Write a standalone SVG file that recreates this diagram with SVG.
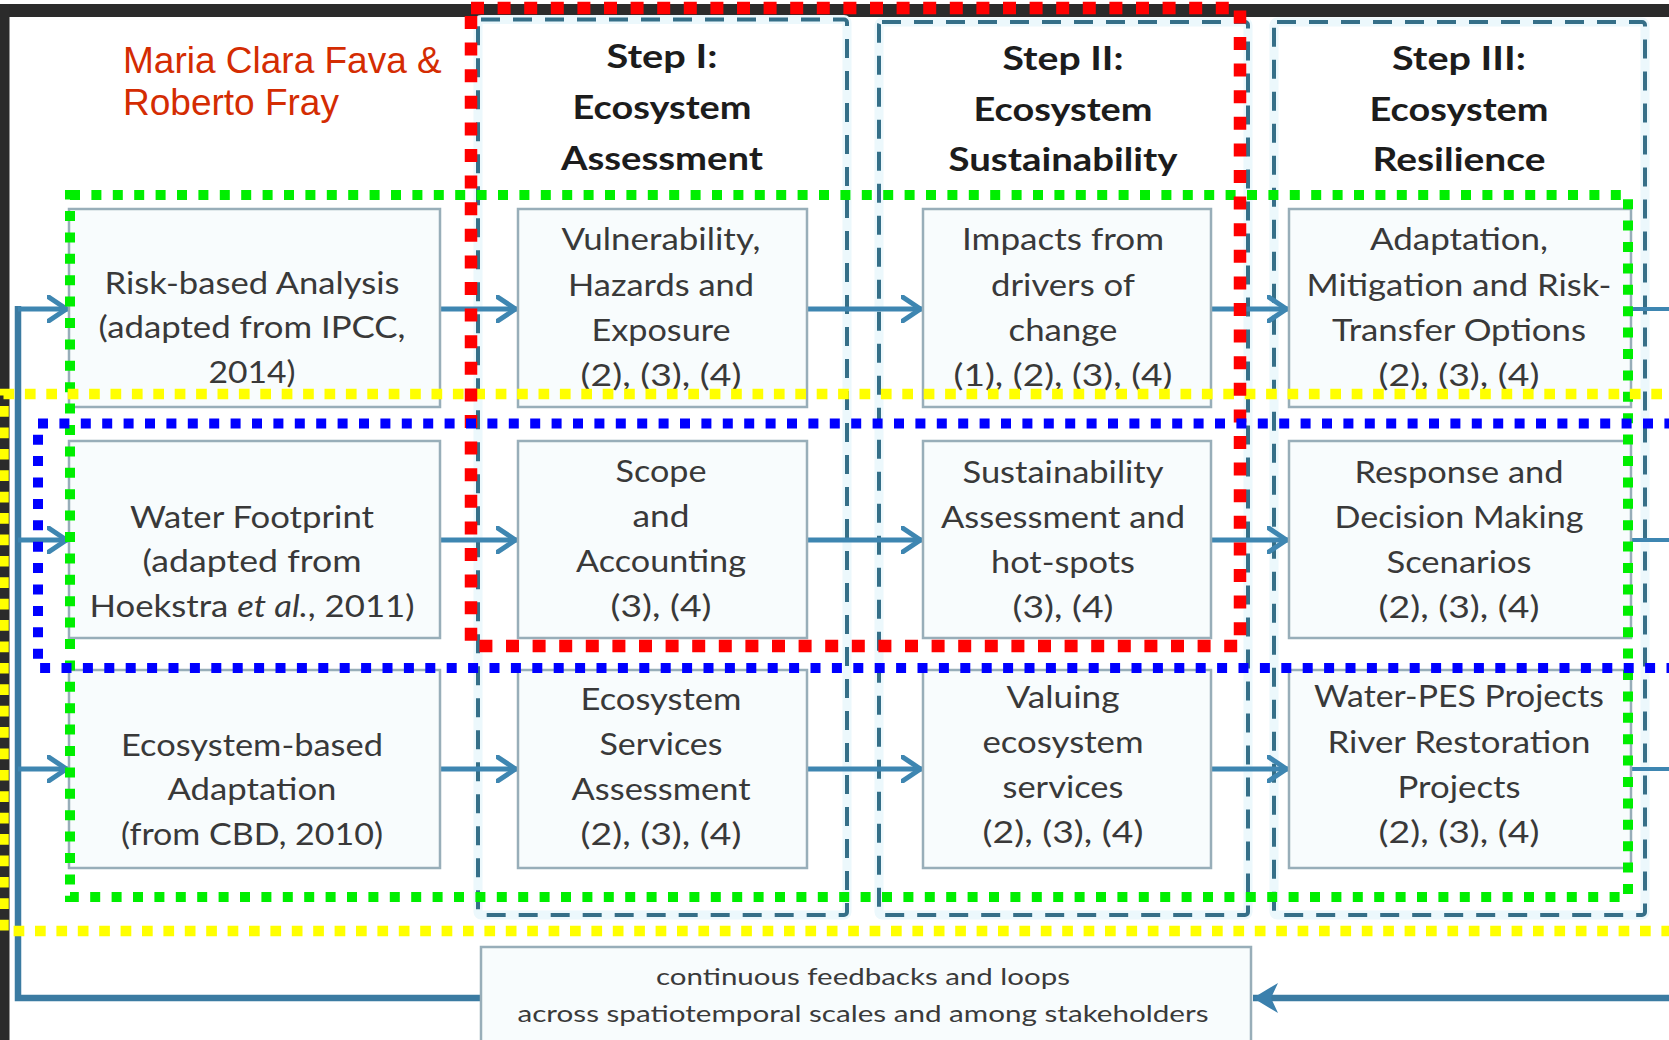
<svg xmlns="http://www.w3.org/2000/svg" width="1669" height="1040" viewBox="0 0 1669 1040">
<defs>
<style>
.box{fill:#f8fcfd;stroke:#98aeb9;stroke-width:2.5}
.glow{fill:none;stroke:#ecf8fc;stroke-width:9}
.step{fill:none;stroke:#356f88;stroke-width:4;stroke-dasharray:19 13}
.hdr{font-family:Lato,"Open Sans","Liberation Sans",sans-serif;font-weight:700;font-size:32px;fill:#1c1c1c;text-anchor:middle}
.txt{font-family:Lato,"Open Sans","Liberation Sans",sans-serif;font-size:31px;fill:#393939;text-anchor:middle}
.small{font-family:Lato,"Open Sans","Liberation Sans",sans-serif;font-size:23px;fill:#3a3a3a;text-anchor:middle}
.title{font-family:"Liberation Sans",Arial,sans-serif;font-size:37px;fill:#d42c02}
.conn{fill:none;stroke:#3e86b1;stroke-width:5}
.thin{fill:none;stroke:#3e86b1;stroke-width:4}
.loop{fill:none;stroke:#3b7ba2;stroke-width:6.5}
.ov{fill:none}
.green{stroke:#00ee00;stroke-width:10;stroke-dasharray:10 11.4}
.yellow{stroke:#ffff00;stroke-width:10.5;stroke-dasharray:10.7 10.7}
.red{stroke:#ff0000;stroke-width:12.5;stroke-dasharray:13 13.6}
.blue{stroke:#0000ff;stroke-width:10;stroke-dasharray:10 11.4}
</style>
<marker id="chev" viewBox="0 0 26 28" markerWidth="26" markerHeight="28" refX="22.5" refY="14" orient="auto" markerUnits="userSpaceOnUse">
<path d="M2,2 L20,14 L2,26" fill="none" stroke="#3e86b1" stroke-width="5" stroke-linejoin="round" stroke-linecap="round"/>
</marker>
<marker id="fb" viewBox="0 0 28 32" markerWidth="28" markerHeight="32" refX="27" refY="16" orient="auto" markerUnits="userSpaceOnUse">
<path d="M27,16 L2,1 L9,16 L2,31 Z" fill="#3b80ad"/>
</marker>
</defs>
<rect x="0" y="0" width="1669" height="1040" fill="#ffffff"/>
<g id="frame">
<rect x="0" y="4" width="1669" height="13" fill="#2b2b2b"/>
<rect x="0" y="4" width="9.5" height="1036" fill="#2b2b2b"/>
</g>
<g id="title">
<text class="title" x="123" y="73">Maria Clara Fava &amp;</text>
<text class="title" x="123" y="115">Roberto Fray</text>
</g>
<g id="step-1">
<rect class="glow" x="478" y="19.5" width="369" height="895.5" rx="3"/>
<rect class="step" x="478" y="19.5" width="369" height="895.5" rx="3"/>
<text class="hdr"><tspan x="662" y="68" textLength="111" lengthAdjust="spacingAndGlyphs">Step I:</tspan><tspan x="662" y="119" textLength="179" lengthAdjust="spacingAndGlyphs">Ecosystem</tspan><tspan x="662" y="170" textLength="202" lengthAdjust="spacingAndGlyphs">Assessment</tspan></text>
</g>
<g id="step-2">
<rect class="glow" x="879" y="22" width="369" height="893" rx="3"/>
<rect class="step" x="879" y="22" width="369" height="893" rx="3"/>
<text class="hdr"><tspan x="1063" y="70" textLength="121" lengthAdjust="spacingAndGlyphs">Step II:</tspan><tspan x="1063" y="121" textLength="179" lengthAdjust="spacingAndGlyphs">Ecosystem</tspan><tspan x="1063" y="171" textLength="229" lengthAdjust="spacingAndGlyphs">Sustainability</tspan></text>
</g>
<g id="step-3">
<rect class="glow" x="1274" y="22" width="371" height="893" rx="3"/>
<rect class="step" x="1274" y="22" width="371" height="893" rx="3"/>
<text class="hdr"><tspan x="1459" y="70" textLength="134" lengthAdjust="spacingAndGlyphs">Step III:</tspan><tspan x="1459" y="121" textLength="179" lengthAdjust="spacingAndGlyphs">Ecosystem</tspan><tspan x="1459" y="171" textLength="173" lengthAdjust="spacingAndGlyphs">Resilience</tspan></text>
</g>
<g id="connectors">
<path class="loop" d="M481,998 H18 V306"/>
<path class="conn" d="M18,309 H69" marker-end="url(#chev)"/>
<path class="conn" d="M18,540 H69" marker-end="url(#chev)"/>
<path class="conn" d="M18,769 H69" marker-end="url(#chev)"/>
<path class="conn" d="M440,309 H518" marker-end="url(#chev)"/>
<path class="conn" d="M440,540 H518" marker-end="url(#chev)"/>
<path class="conn" d="M440,769 H518" marker-end="url(#chev)"/>
<path class="conn" d="M807,309 H923" marker-end="url(#chev)"/>
<path class="conn" d="M807,540 H923" marker-end="url(#chev)"/>
<path class="conn" d="M807,769 H923" marker-end="url(#chev)"/>
<path class="conn" d="M1211,309 H1289" marker-end="url(#chev)"/>
<path class="conn" d="M1211,540 H1289" marker-end="url(#chev)"/>
<path class="conn" d="M1211,769 H1289" marker-end="url(#chev)"/>
<path class="thin" d="M1631,309 H1669"/>
<path class="thin" d="M1631,540 H1669"/>
<path class="thin" d="M1631,769 H1669"/>
<path class="loop" d="M1669,998 H1253" marker-end="url(#fb)"/>
</g>
<g id="n-risk">
<rect class="box" x="69" y="209" width="371" height="198"/>
<text class="txt"><tspan x="252" y="294" textLength="295" lengthAdjust="spacingAndGlyphs">Risk-based Analysis</tspan><tspan x="252" y="338" textLength="307" lengthAdjust="spacingAndGlyphs">(adapted from IPCC,</tspan><tspan x="252" y="383" textLength="87" lengthAdjust="spacingAndGlyphs">2014)</tspan></text>
</g>
<g id="n-vulnerability">
<rect class="box" x="518" y="209" width="289" height="198"/>
<text class="txt"><tspan x="661" y="250" textLength="199" lengthAdjust="spacingAndGlyphs">Vulnerability,</tspan><tspan x="661" y="296" textLength="186" lengthAdjust="spacingAndGlyphs">Hazards and</tspan><tspan x="661" y="341" textLength="139" lengthAdjust="spacingAndGlyphs">Exposure</tspan><tspan x="661" y="386" textLength="161" lengthAdjust="spacingAndGlyphs">(2), (3), (4)</tspan></text>
</g>
<g id="n-impacts">
<rect class="box" x="923" y="209" width="288" height="198"/>
<text class="txt"><tspan x="1063" y="250" textLength="202" lengthAdjust="spacingAndGlyphs">Impacts from</tspan><tspan x="1063" y="296" textLength="144" lengthAdjust="spacingAndGlyphs">drivers of</tspan><tspan x="1063" y="341" textLength="109" lengthAdjust="spacingAndGlyphs">change</tspan><tspan x="1063" y="386" textLength="219" lengthAdjust="spacingAndGlyphs">(1), (2), (3), (4)</tspan></text>
</g>
<g id="n-adaptation">
<rect class="box" x="1289" y="209" width="342" height="198"/>
<text class="txt"><tspan x="1459" y="250" textLength="178" lengthAdjust="spacingAndGlyphs">Adaptation,</tspan><tspan x="1459" y="296" textLength="305" lengthAdjust="spacingAndGlyphs">Mitigation and Risk-</tspan><tspan x="1459" y="341" textLength="254" lengthAdjust="spacingAndGlyphs">Transfer Options</tspan><tspan x="1459" y="386" textLength="161" lengthAdjust="spacingAndGlyphs">(2), (3), (4)</tspan></text>
</g>
<g id="n-water-footprint">
<rect class="box" x="69" y="441" width="371" height="197"/>
<text class="txt"><tspan x="252" y="528" textLength="244" lengthAdjust="spacingAndGlyphs">Water Footprint</tspan><tspan x="252" y="572" textLength="219" lengthAdjust="spacingAndGlyphs">(adapted from</tspan><tspan x="252" y="617" textLength="325" lengthAdjust="spacingAndGlyphs">Hoekstra <tspan font-style="italic">et al.</tspan>, 2011)</tspan></text>
</g>
<g id="n-scope">
<rect class="box" x="518" y="441" width="289" height="197"/>
<text class="txt"><tspan x="661" y="482" textLength="91" lengthAdjust="spacingAndGlyphs">Scope</tspan><tspan x="661" y="527" textLength="57" lengthAdjust="spacingAndGlyphs">and</tspan><tspan x="661" y="572" textLength="170" lengthAdjust="spacingAndGlyphs">Accounting</tspan><tspan x="661" y="617" textLength="101" lengthAdjust="spacingAndGlyphs">(3), (4)</tspan></text>
</g>
<g id="n-sustainability">
<rect class="box" x="923" y="441" width="288" height="197"/>
<text class="txt"><tspan x="1063" y="483" textLength="201" lengthAdjust="spacingAndGlyphs">Sustainability</tspan><tspan x="1063" y="528" textLength="244" lengthAdjust="spacingAndGlyphs">Assessment and</tspan><tspan x="1063" y="573" textLength="144" lengthAdjust="spacingAndGlyphs">hot-spots</tspan><tspan x="1063" y="618" textLength="101" lengthAdjust="spacingAndGlyphs">(3), (4)</tspan></text>
</g>
<g id="n-response">
<rect class="box" x="1289" y="441" width="342" height="197"/>
<text class="txt"><tspan x="1459" y="483" textLength="209" lengthAdjust="spacingAndGlyphs">Response and</tspan><tspan x="1459" y="528" textLength="249" lengthAdjust="spacingAndGlyphs">Decision Making</tspan><tspan x="1459" y="573" textLength="145" lengthAdjust="spacingAndGlyphs">Scenarios</tspan><tspan x="1459" y="618" textLength="161" lengthAdjust="spacingAndGlyphs">(2), (3), (4)</tspan></text>
</g>
<g id="n-eba">
<rect class="box" x="69" y="670" width="371" height="198"/>
<text class="txt"><tspan x="252" y="756" textLength="262" lengthAdjust="spacingAndGlyphs">Ecosystem-based</tspan><tspan x="252" y="800" textLength="169" lengthAdjust="spacingAndGlyphs">Adaptation</tspan><tspan x="252" y="845" textLength="262" lengthAdjust="spacingAndGlyphs">(from CBD, 2010)</tspan></text>
</g>
<g id="n-ess">
<rect class="box" x="518" y="670" width="289" height="198"/>
<text class="txt"><tspan x="661" y="710" textLength="161" lengthAdjust="spacingAndGlyphs">Ecosystem</tspan><tspan x="661" y="755" textLength="123" lengthAdjust="spacingAndGlyphs">Services</tspan><tspan x="661" y="800" textLength="179" lengthAdjust="spacingAndGlyphs">Assessment</tspan><tspan x="661" y="845" textLength="161" lengthAdjust="spacingAndGlyphs">(2), (3), (4)</tspan></text>
</g>
<g id="n-valuing">
<rect class="box" x="923" y="670" width="288" height="198"/>
<text class="txt"><tspan x="1063" y="708" textLength="113" lengthAdjust="spacingAndGlyphs">Valuing</tspan><tspan x="1063" y="753" textLength="161" lengthAdjust="spacingAndGlyphs">ecosystem</tspan><tspan x="1063" y="798" textLength="121" lengthAdjust="spacingAndGlyphs">services</tspan><tspan x="1063" y="843" textLength="161" lengthAdjust="spacingAndGlyphs">(2), (3), (4)</tspan></text>
</g>
<g id="n-water-pes">
<rect class="box" x="1289" y="670" width="342" height="198"/>
<text class="txt"><tspan x="1459" y="707" textLength="290" lengthAdjust="spacingAndGlyphs">Water-PES Projects</tspan><tspan x="1459" y="753" textLength="263" lengthAdjust="spacingAndGlyphs">River Restoration</tspan><tspan x="1459" y="798" textLength="123" lengthAdjust="spacingAndGlyphs">Projects</tspan><tspan x="1459" y="843" textLength="161" lengthAdjust="spacingAndGlyphs">(2), (3), (4)</tspan></text>
</g>
<g id="n-feedback">
<rect class="box" x="481" y="947" width="770" height="110"/>
<text class="small"><tspan x="863" y="985" textLength="414" lengthAdjust="spacingAndGlyphs">continuous  feedbacks and loops</tspan><tspan x="863" y="1022" textLength="691" lengthAdjust="spacingAndGlyphs">across spatiotemporal scales and among stakeholders</tspan></text>
</g>
<g id="overlays">
<rect class="ov green" x="70" y="195" width="1558" height="702"/>
<rect class="ov yellow" x="3.5" y="394" width="1700" height="537"/>
<rect class="ov red" x="471" y="8" width="769" height="638"/>
<rect class="ov blue" x="38" y="423.5" width="1660" height="244.5"/>
</g>
</svg>
